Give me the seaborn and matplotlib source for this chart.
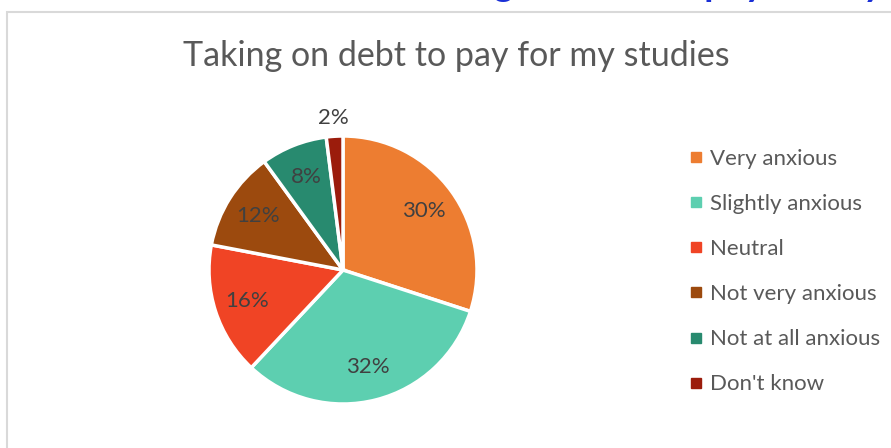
import matplotlib
matplotlib.use("Agg")
import matplotlib.pyplot as plt
from matplotlib.lines import Line2D
from matplotlib.patches import Rectangle
import numpy as np
import seaborn as sns

# Survey responses: anxiety about taking on debt to pay for studies
categories = ["Very anxious", "Slightly anxious", "Neutral",
              "Not very anxious", "Not at all anxious", "Don't know"]
shares = [30, 32, 16, 12, 8, 2]
colors = ["#ED7D31", "#5DCFB0", "#F04425", "#9C4A0E", "#288A6F", "#9B1C0C"]
chart_title = "Taking on debt to pay for my studies"
slide_heading = "Taking on debt to pay for my studies"

sns.set_theme(style="white")
plt.rcParams["font.family"] = ["Lato", "DejaVu Sans"]
palette = sns.color_palette(colors)

W, H = 891, 448
fig = plt.figure(figsize=(W / 100, H / 100), dpi=100)
fig.patch.set_facecolor("white")

# slide heading, mostly above the visible area
fig.text(402 / W, 1 + 3.5 / H, slide_heading, ha="left", va="baseline",
         fontsize=27, fontweight="bold", color="#1A2FD6")

# chart-area frame
fig.add_artist(Rectangle((6.5 / W, -0.1), 1.2, (H - 12.5) / H + 0.1,
                         transform=fig.transFigure, fill=False,
                         edgecolor="#D9D9D9", linewidth=1.5))

fig.text(456 / W, 1 - 56 / H, chart_title, ha="center", va="center",
         fontsize=24.5, color="#595959")

cx, cy, r = 343, 270, 134
ax = fig.add_axes([(cx - r) / W, (H - cy - r) / H, 2 * r / W, 2 * r / H])
wedges, _ = ax.pie(shares, colors=palette, startangle=90, counterclock=False,
                   radius=1, wedgeprops=dict(edgecolor="white", linewidth=2.5))
ax.set_xlim(-1, 1)
ax.set_ylim(-1, 1)
ax.set_aspect("equal")
ax.axis("off")

for w, v in zip(wedges, shares):
    mid = np.deg2rad((w.theta1 + w.theta2) / 2)
    dist = 1.14 if v < 5 else 0.75
    ax.text(dist * np.cos(mid), dist * np.sin(mid), f"{v}%",
            ha="center", va="center", fontsize=16, color="#404040")

handles = [Line2D([], [], marker="s", linestyle="none", markersize=7,
                  markerfacecolor=c, markeredgecolor=c) for c in palette]
fig.legend(handles, categories, loc="upper left",
           bbox_to_anchor=(678 / W, 1 - 140 / H), frameon=False,
           fontsize=16, labelcolor="#595959", labelspacing=1.13,
           handletextpad=0.25, handlelength=0.8, borderaxespad=0)

fig.savefig("out.png", dpi=100, facecolor="white")
